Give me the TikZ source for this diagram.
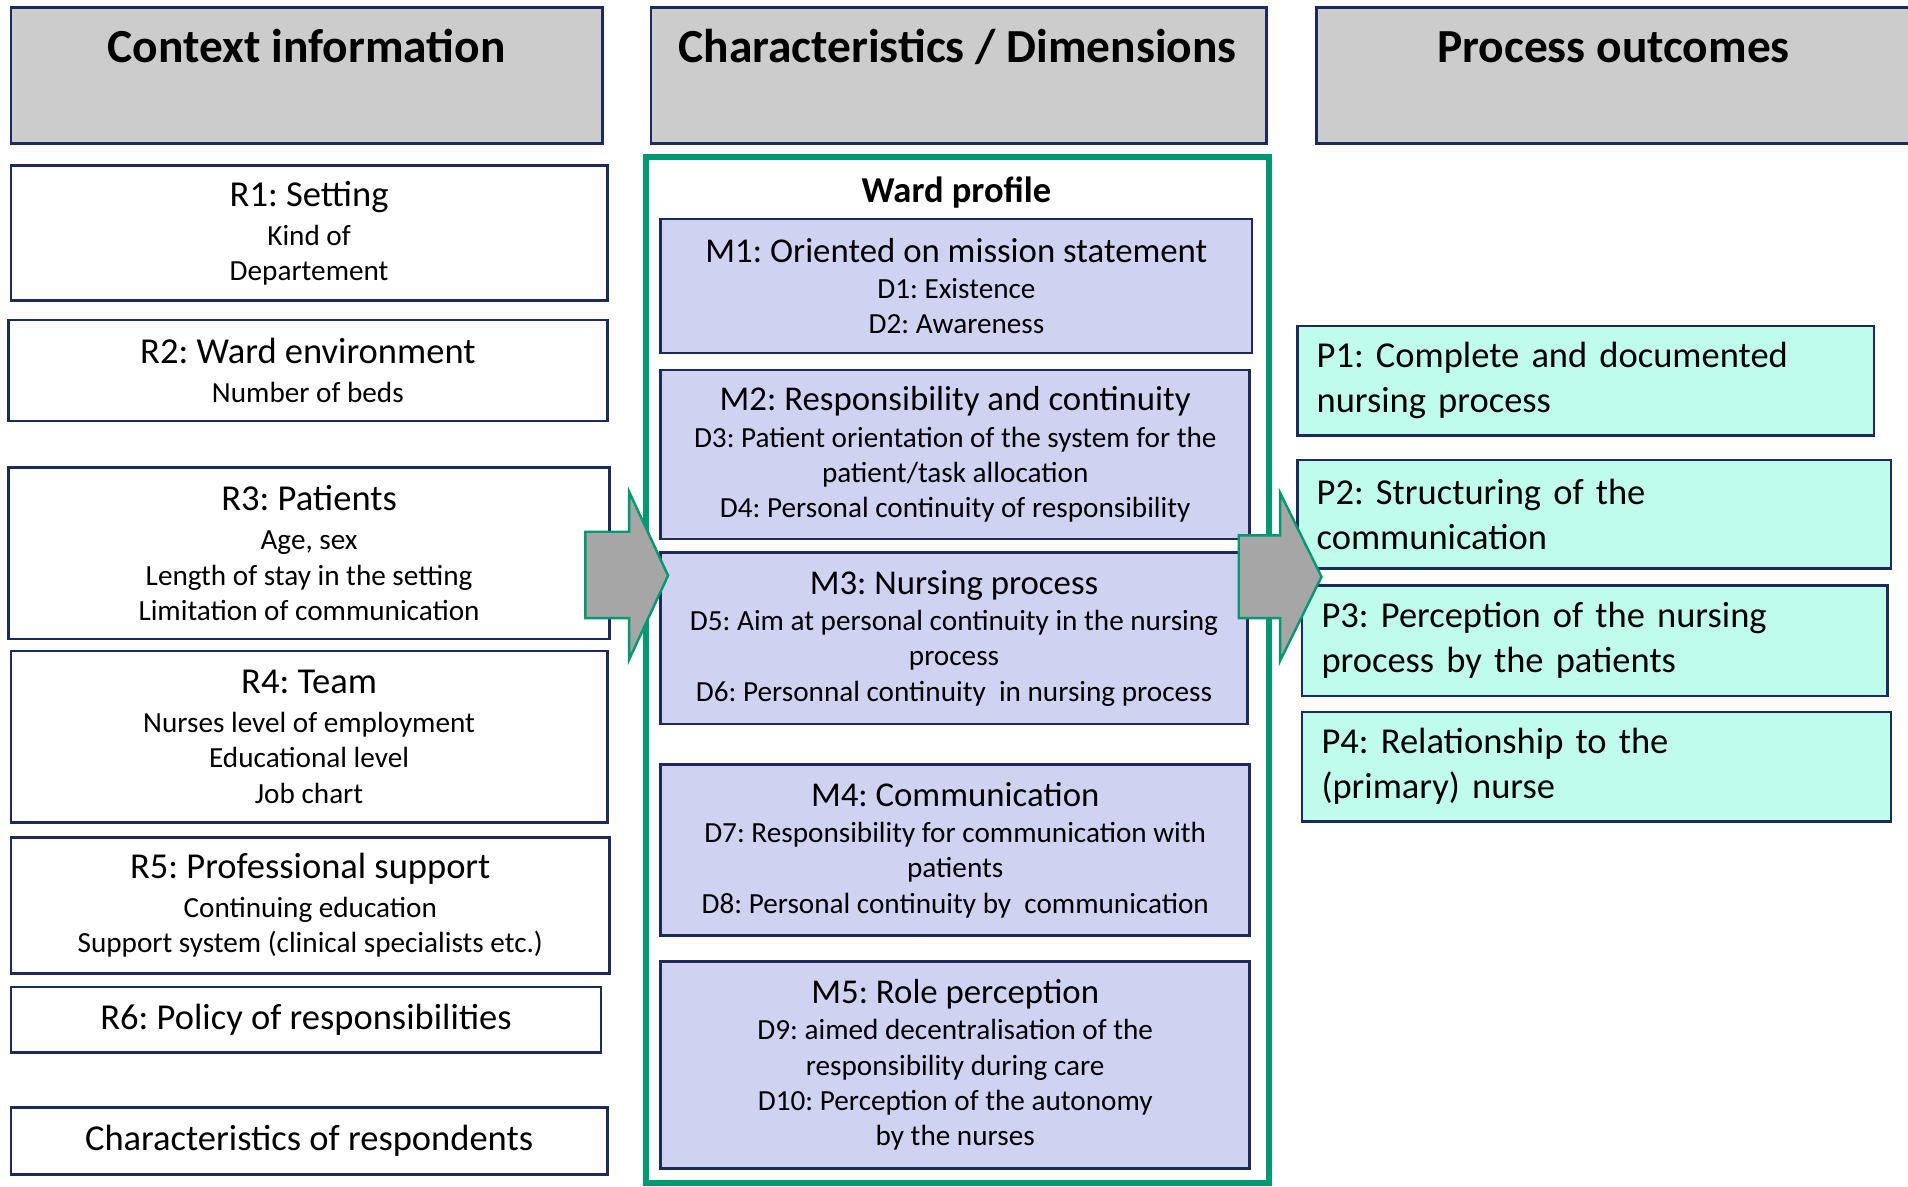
\documentclass[tikz,border=0pt]{standalone}
\usepackage{fontspec}
\setmainfont{Carlito}
\frenchspacing
\definecolor{navy}{RGB}{31,42,92}
\definecolor{hdrgray}{RGB}{204,204,204}
\definecolor{lav}{RGB}{208,210,242}
\definecolor{mint}{RGB}{192,252,236}
\definecolor{frgreen}{RGB}{0,152,112}
\definecolor{arrgray}{RGB}{166,166,166}
\newcommand{\rtitle}[1]{{\fontsize{15}{18}\selectfont #1}\\[1.5pt]}
\newcommand{\mtitle}[1]{{\fontsize{14.3}{17}\selectfont #1}\\[0.5pt]}
\tikzset{
  hdr/.style={draw=navy, line width=1.1pt, fill=hdrgray, inner sep=0pt},
  hdrtext/.style={font=\bfseries\fontsize{19.5}{23}\selectfont, anchor=base, inner sep=0pt},
  rbox/.style={draw=navy, line width=1.1pt, fill=white, inner sep=0pt, align=center, font=\fontsize{12}{14.5}\selectfont},
  rsingle/.style={rbox, font=\fontsize{15}{18}\selectfont},
  mbox/.style={rbox, fill=lav},
  pbox/.style={draw=navy, line width=1.1pt, fill=mint, inner xsep=8pt, inner ysep=0pt, align=left, font=\fontsize{15}{18.5}\selectfont},
  blockarrow/.style={draw=frgreen, line width=1pt, fill=arrgray, line join=miter},
  wardframe/.style={draw=frgreen, line width=2.4pt, inner sep=0pt},
  wardtext/.style={font=\bfseries\fontsize{15}{18}\selectfont, anchor=base, inner sep=0pt},
}
\begin{document}
\begin{tikzpicture}[x=0.5pt, y=-0.5pt]
\useasboundingbox (0,0) rectangle (1568,975);
\fill[white] (0,0) rectangle (1568,975);

% headers
\node[hdr, minimum width=243pt, minimum height=56pt] (h1) at (252,62) {};
\node[hdr, minimum width=253pt, minimum height=56pt] (h2) at (788,62) {};
\node[hdr, minimum width=244pt, minimum height=56pt] (h3) at (1326,62) {};
\node[hdrtext] (t1) at (252,51) {Context information};
\node[hdrtext] (t2) at (787,51) {Characteristics / Dimensions};
\node[hdrtext] (t3) at (1326,51) {Process outcomes};

% context boxes
\node[rbox, minimum width=245pt, minimum height=55.5pt] (r1) at (254,191.5)
  {\rtitle{R1: Setting}Kind of\\Departement};
\node[rbox, minimum width=246pt, minimum height=41.5pt] (r2) at (253,304.5)
  {\rtitle{R2: Ward environment}Number of beds};
\node[rbox, minimum width=247pt, minimum height=70.5pt] (r3) at (254,454.5)
  {\rtitle{R3: Patients}Age, sex\\Length of stay in the setting\\Limitation of communication};
\node[rbox, minimum width=245pt, minimum height=70.5pt] (r4) at (254,605.5)
  {\rtitle{R4: Team}Nurses level of employment\\Educational level\\Job chart};
\node[rbox, minimum width=246pt, minimum height=56pt] (r5) at (255,744)
  {\rtitle{R5: Professional support}Continuing education\\Support system (clinical specialists etc.)};
\node[rsingle, minimum width=242.5pt, minimum height=27pt] (r6) at (251.5,838)
  {R6: Policy of responsibilities};
\node[rsingle, minimum width=245pt, minimum height=27.5pt] (rc) at (254,937.5)
  {Characteristics of respondents};

% ward profile frame
\node[wardframe, minimum width=256pt, minimum height=421.5pt] (ward) at (787,550.5) {};
\node[wardtext] (wt) at (786,166) {Ward profile};

\node[mbox, minimum width=243pt, minimum height=55pt] (m1) at (786,235)
  {\mtitle{M1: Oriented on mission statement}D1: Existence\\D2: Awareness};
\node[mbox, minimum width=242pt, minimum height=69.5pt] (m2) at (785,373.5)
  {\mtitle{M2: Responsibility and continuity}D3: Patient orientation of the system for the\\patient/task allocation\\D4: Personal continuity of responsibility};
\node[mbox, minimum width=241pt, minimum height=70.5pt] (m3) at (784,524.5)
  {\mtitle{M3: Nursing process}D5: Aim at personal continuity in the nursing\\process\\D6: Personnal continuity~ in nursing process};
\node[mbox, minimum width=242pt, minimum height=70.5pt] (m4) at (785,698.5)
  {\mtitle{M4: Communication}D7: Responsibility for communication with\\patients\\D8: Personal continuity by~ communication};
\node[mbox, minimum width=242pt, minimum height=85pt] (m5) at (785,875)
  {\mtitle{M5: Role perception}D9: aimed decentralisation of the\\responsibility during care\\D10: Perception of the autonomy\\by the nurses};

% outcome boxes
\node[pbox, minimum height=45pt, text width=221pt] (p1) at (1303,313)
  {P1: Complete and documented\\nursing process};
\node[pbox, minimum height=44.5pt, text width=228pt] (p2) at (1310,422.5)
  {P2: Structuring of the\\communication};
\node[pbox, minimum height=45.5pt, text width=224.5pt] (p3) at (1310.5,526.5)
  {P3: Perception of the nursing\\process by the patients};
\node[pbox, minimum height=45pt, text width=226pt] (p4) at (1312,630)
  {P4: Relationship to the\\(primary) nurse};

% block arrows
\draw[blockarrow] (481,437) -- (517,437) -- (517,404) -- (549,473) -- (517,542) -- (517,508) -- (481,508) -- cycle;
\draw[blockarrow] (1018,440) -- (1052,440) -- (1052,405) -- (1086,474) -- (1052,543) -- (1052,508) -- (1018,508) -- cycle;
\end{tikzpicture}
\end{document}
